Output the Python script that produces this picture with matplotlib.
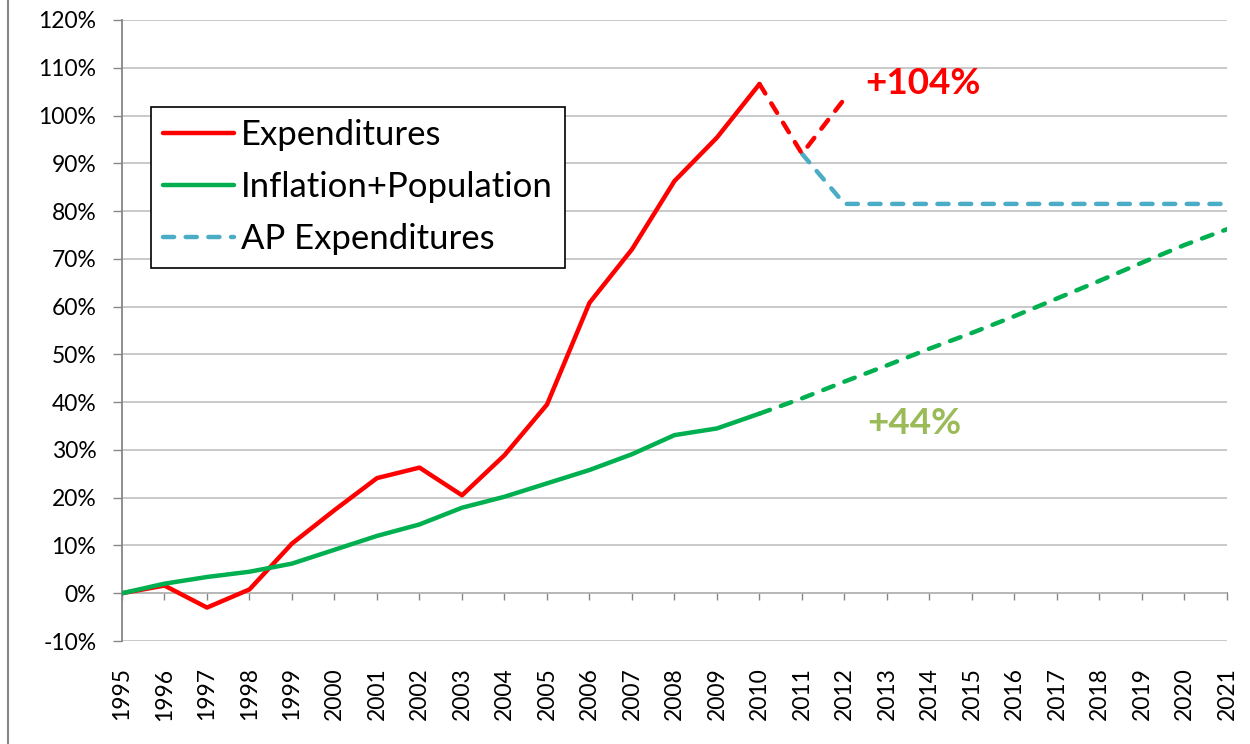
import matplotlib
matplotlib.use("Agg")
import matplotlib.pyplot as plt
import numpy as np
from matplotlib.lines import Line2D
from matplotlib.ticker import FuncFormatter, MultipleLocator

plt.rcParams['font.family'] = ['Lato', 'DejaVu Sans']

# years on the x axis
years = list(range(1995, 2022))

# actual expenditures growth, 1995-2010 (%)
exp_years = list(range(1995, 2011))
expenditures = [0, 1.6, -3.0, 0.8, 10.4, 17.4, 24.1, 26.3, 20.5, 28.9,
                39.5, 60.8, 72.0, 86.3, 95.4, 106.6]

# projected expenditures, 2010-2012 (%)
exp_proj_years = [2010, 2011, 2012]
exp_proj = [106.6, 92.0, 103.5]

# AP expenditures, 2011-2021 (%)
ap_years = list(range(2011, 2022))
ap_exp = [92.0, 81.5, 81.5, 81.5, 81.5, 81.5, 81.5, 81.5, 81.5, 81.5, 81.5]

# inflation + population growth, actual 1995-2010 (%)
infl_years = list(range(1995, 2011))
inflation = [0, 2.0, 3.4, 4.5, 6.2, 9.1, 12.0, 14.4, 17.9, 20.2,
             23.0, 25.8, 29.1, 33.1, 34.5, 37.6]

# inflation + population projection, 2010-2021 (%)
infl_proj_years = list(range(2010, 2022))
infl_proj = [37.6, 40.8, 44.3, 47.7, 51.2, 54.5, 58.0, 61.7, 65.4, 69.2, 72.9, 76.2]

RED = "#FF0000"
GREEN = "#00B050"
BLUE = "#4BACC6"
OLIVE = "#9BBB59"
AXIS_GRAY = "#868686"
GRID_GRAY = "#C0C0C0"

fig = plt.figure(figsize=(12.5, 7.44), dpi=100)
ax = fig.add_axes([122 / 1250, 1 - 641 / 744, 1105 / 1250, 621 / 744])

LW = 3.2
DASH = (2.5, 2.6)

# lines
ax.plot(exp_years, expenditures, color=RED, lw=LW, solid_joinstyle='round',
        solid_capstyle='round', label="Expenditures", zorder=4)
ax.plot(infl_years, inflation, color=GREEN, lw=LW, solid_joinstyle='round',
        solid_capstyle='round', label="Inflation+Population", zorder=4)
ax.plot(ap_years, ap_exp, color=BLUE, lw=LW, dashes=DASH,
        dash_capstyle='round', dash_joinstyle='round', label="AP Expenditures", zorder=3)
ax.plot(exp_proj_years, exp_proj, color=RED, lw=LW, dashes=DASH,
        dash_capstyle='round', dash_joinstyle='round', zorder=4)
ax.plot(infl_proj_years, infl_proj, color=GREEN, lw=LW, dashes=DASH,
        dash_capstyle='round', dash_joinstyle='round', zorder=4)

# annotations
ax.text(2012.48, 106.8, "+104%", color=RED, fontsize=26.5, fontweight='bold',
        ha='left', va='center')
ax.text(2012.53, 35.6, "+44%", color=OLIVE, fontsize=26.5, fontweight='bold',
        ha='left', va='center')

# axes limits, grid
ax.set_xlim(1995, 2021)
ax.set_ylim(-10, 120)
ax.yaxis.set_major_locator(MultipleLocator(10))
ax.yaxis.set_major_formatter(FuncFormatter(lambda v, p: f"{v:.0f}%"))
ax.grid(axis='y', color=GRID_GRAY, lw=1.2)
ax.set_axisbelow(True)

for side in ['top', 'right', 'bottom']:
    ax.spines[side].set_visible(False)
ax.spines['left'].set_color(AXIS_GRAY)
ax.spines['left'].set_linewidth(1.3)
ax.tick_params(axis='y', direction='out', length=6.5, width=1, color=AXIS_GRAY,
               pad=12, labelsize=16.5)

ax.set_xticks(years)
ax.set_xticklabels([str(y) for y in years], rotation=90)
ax.tick_params(axis='x', length=0, pad=19, labelsize=16.5)

# horizontal axis line at 0% with tick marks
sec = ax.secondary_xaxis(10 / 130)
sec.set_xticks(years)
sec.set_xticklabels([])
sec.spines['bottom'].set_color(AXIS_GRAY)
sec.spines['bottom'].set_linewidth(1.3)
sec.tick_params(axis='x', direction='out', length=5, width=1, color=AXIS_GRAY)

# legend
leg = ax.legend(loc='upper left', bbox_to_anchor=(29 / 1105, (641 - 107) / 621),
                borderaxespad=0, fontsize=25, frameon=True, fancybox=False,
                handlelength=2.05, handletextpad=0.18, labelspacing=0.58,
                borderpad=0.35, framealpha=1)
leg.get_frame().set_edgecolor('black')
leg.get_frame().set_linewidth(1.2)

# chart border on the left
fig.add_artist(Line2D([8 / 1250, 8 / 1250], [0, 1], color=AXIS_GRAY, lw=1.5))

fig.savefig("out.png", dpi=100)
